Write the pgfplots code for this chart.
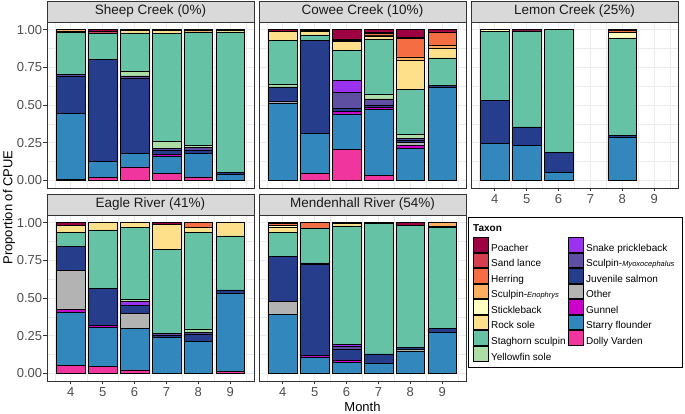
\documentclass[border=0pt]{standalone}
\usepackage{pgfplots}
\pgfplotsset{compat=1.18}
\usepackage{pgfplotstable}
\usepackage{fontspec}
\setmainfont{Liberation Sans}

\definecolor{cPO}{HTML}{9E0142}
\definecolor{cSL}{HTML}{D53E4F}
\definecolor{cHE}{HTML}{F46D43}
\definecolor{cEN}{HTML}{FDAE61}
\definecolor{cSB}{HTML}{FFFFBF}
\definecolor{cRS}{HTML}{FEE08B}
\definecolor{cSS}{HTML}{66C2A5}
\definecolor{cYF}{HTML}{ABDDA4}
\definecolor{cSP}{HTML}{9A32F0}
\definecolor{cMY}{HTML}{5E4FA2}
\definecolor{cJS}{HTML}{253D8A}
\definecolor{cOT}{HTML}{B3B3B3}
\definecolor{cGU}{HTML}{CC00CC}
\definecolor{cSF}{HTML}{3288BD}
\definecolor{cDV}{HTML}{F0359F}
\definecolor{gray10}{HTML}{1A1A1A}
\definecolor{gray20}{HTML}{333333}
\definecolor{gray30}{HTML}{4D4D4D}
\definecolor{gray85}{HTML}{D9D9D9}
\definecolor{gridgray}{HTML}{EBEBEB}

% columns: month, Dolly Varden, Starry flounder, Gunnel, Other, Juvenile salmon,
% Sculpin-Myoxocephalus, Snake prickleback, Yellowfin sole, Staghorn sculpin,
% Rock sole, Stickleback, Sculpin-Enophrys, Herring, Sand lance, Poacher
\pgfplotstableread{
m DV SF GU OT JS MY SP YF SS RS SB EN HE SL PO
4 0.006 0.436 0 0 0.250 0.013 0 0 0.274 0.011 0 0.010 0 0 0
5 0.018 0.108 0 0 0.675 0 0 0 0.177 0 0 0 0 0.011 0.011
6 0.090 0.087 0 0 0.501 0.015 0 0.027 0.258 0.016 0 0 0 0 0.006
7 0.046 0.115 0.011 0 0.028 0.012 0 0.048 0.716 0.018 0 0 0 0 0.006
8 0.024 0.155 0 0 0.021 0.021 0 0.011 0.753 0 0 0.008 0 0 0.007
9 0 0.042 0 0 0.013 0 0 0 0.930 0.008 0 0.007 0 0 0
}\tabS
\pgfplotstableread{
m DV SF GU OT JS MY SP YF SS RS SB EN HE SL PO
4 0 0.514 0 0.011 0.095 0 0 0.020 0.289 0.060 0 0 0 0 0.011
5 0.049 0.262 0 0 0.618 0 0 0 0.036 0.022 0.006 0 0 0 0.007
6 0.206 0.235 0.017 0 0.018 0.105 0.080 0 0.200 0.060 0 0.006 0 0.011 0.062
7 0.033 0.437 0.018 0 0.009 0.044 0 0.029 0.368 0.020 0 0.007 0.010 0.010 0.015
8 0 0.212 0.020 0.022 0.011 0.011 0 0.029 0.296 0.196 0 0.022 0.121 0.009 0.051
9 0 0.614 0 0 0.015 0 0 0 0.183 0.064 0 0.018 0.091 0 0.015
}\tabC
\pgfplotstableread{
m DV SF GU OT JS MY SP YF SS RS SB EN HE SL PO
4 0 0.245 0 0 0.287 0 0 0 0.455 0 0.013 0 0 0 0
5 0 0.234 0 0 0.121 0 0 0 0.636 0 0 0 0 0 0.009
6 0 0.051 0 0 0.137 0 0 0 0.812 0 0 0 0 0 0
8 0 0.289 0 0 0.009 0 0 0 0.647 0 0.037 0 0.012 0.006 0
}\tabL
\pgfplotstableread{
m DV SF GU OT JS MY SP YF SS RS SB EN HE SL PO
4 0.051 0.357 0.014 0.260 0.159 0 0 0 0.095 0.046 0 0 0 0 0.018
5 0.046 0.259 0.011 0 0.249 0 0 0 0.386 0.049 0 0 0 0 0
6 0.024 0.276 0 0.100 0.053 0 0.025 0.014 0.478 0.030 0 0 0 0 0
7 0 0.240 0 0 0.014 0.013 0 0 0.556 0.166 0 0 0 0 0.011
8 0 0.212 0 0 0.050 0.011 0 0.022 0.642 0.030 0 0 0.033 0 0
9 0.011 0.521 0 0 0.022 0 0 0 0.358 0.088 0 0 0 0 0
}\tabE
\pgfplotstableread{
m DV SF GU OT JS MY SP YF SS RS SB EN HE SL PO
4 0 0.389 0 0.088 0.298 0 0 0 0.161 0.033 0.011 0 0.012 0.008 0
5 0 0.110 0.008 0 0.607 0.008 0 0 0.232 0 0 0 0.035 0 0
6 0 0.075 0.015 0 0.071 0.020 0.013 0 0.784 0.015 0.007 0 0 0 0
7 0 0.064 0 0 0.066 0 0 0 0.865 0 0 0 0 0 0.005
8 0 0.145 0 0.015 0.012 0 0 0 0.808 0 0 0 0 0 0.020
9 0 0.272 0 0 0.028 0 0 0 0.667 0.005 0 0.028 0 0 0
}\tabM

\newcommand{\stackbars}[1]{%
\addplot[fill=cDV] table[x=m,y=DV]{#1};
\addplot[fill=cSF] table[x=m,y=SF]{#1};
\addplot[fill=cGU] table[x=m,y=GU]{#1};
\addplot[fill=cOT] table[x=m,y=OT]{#1};
\addplot[fill=cJS] table[x=m,y=JS]{#1};
\addplot[fill=cMY] table[x=m,y=MY]{#1};
\addplot[fill=cSP] table[x=m,y=SP]{#1};
\addplot[fill=cYF] table[x=m,y=YF]{#1};
\addplot[fill=cSS] table[x=m,y=SS]{#1};
\addplot[fill=cRS] table[x=m,y=RS]{#1};
\addplot[fill=cSB] table[x=m,y=SB]{#1};
\addplot[fill=cEN] table[x=m,y=EN]{#1};
\addplot[fill=cHE] table[x=m,y=HE]{#1};
\addplot[fill=cSL] table[x=m,y=SL]{#1};
\addplot[fill=cPO] table[x=m,y=PO]{#1};
}

\pgfplotsset{
 panel/.style={
   scale only axis, width=207pt, height=166pt,
   anchor=south west,
   xmin=3.255, xmax=9.745, ymin=-0.05, ymax=1.05,
   ybar stacked, bar width=0.9,
   xtick={4,5,6,7,8,9}, ytick={0,0.25,0.5,0.75,1},
   minor xtick={3.5,4.5,5.5,6.5,7.5,8.5,9.5},
   minor ytick={0.125,0.375,0.625,0.875},
   grid=both,
   major grid style={draw=gridgray, line width=0.7pt},
   minor grid style={draw=gridgray, line width=0.35pt},
   minor tick length=0pt,
   tick align=outside, major tick length=3.5pt,
   tick pos=left,
   tick style={draw=gray20, line width=0.6pt},
   axis line style={draw=gray20, line width=0.6pt},
   /pgf/number format/assume math mode=true,
   ticklabel style={font=\fontsize{13}{14}\selectfont, text=gray30},
   yticklabel style={/pgf/number format/fixed, /pgf/number format/fixed zerofill, /pgf/number format/precision=2, inner sep=1.2pt},
   xticklabel style={inner sep=2.5pt},
   every axis plot/.append style={draw=black, line width=0.6pt},
 },
 nox/.style={xticklabels={}, xtick style={draw=none}},
 noy/.style={yticklabels={}, ytick style={draw=none}},
}

\begin{document}
\begin{tikzpicture}
\useasboundingbox (0pt,0pt) rectangle (685pt,414pt);

% panels
\begin{axis}[panel, nox, at={(47pt,226pt)}]
\stackbars{\tabS}
\end{axis}
\begin{axis}[panel, nox, noy, at={(259pt,226pt)}]
\stackbars{\tabC}
\end{axis}
\begin{axis}[panel, noy, at={(471pt,226pt)}]
\stackbars{\tabL}
\end{axis}
\begin{axis}[panel, at={(47pt,33pt)}]
\stackbars{\tabE}
\end{axis}
\begin{axis}[panel, noy, at={(259pt,33pt)}]
\stackbars{\tabM}
\end{axis}

% strips
\tikzset{strip/.style={fill=gray85, draw=gray20, line width=0.6pt},
  striptext/.style={font=\fontsize{13.5}{15}\selectfont, text=gray10}}
\draw[strip] (47pt,392pt) rectangle (254pt,413pt);
\draw[strip] (259pt,392pt) rectangle (466pt,413pt);
\draw[strip] (471pt,392pt) rectangle (678pt,413pt);
\draw[strip] (47pt,199pt) rectangle (254pt,220pt);
\draw[strip] (259pt,199pt) rectangle (466pt,220pt);
\node[striptext] at (150.5pt,402.5pt) {Sheep Creek (0\%)};
\node[striptext] at (362.5pt,402.5pt) {Cowee Creek (10\%)};
\node[striptext] at (574.5pt,402.5pt) {Lemon Creek (25\%)};
\node[striptext] at (150.5pt,209.5pt) {Eagle River (41\%)};
\node[striptext] at (362.5pt,209.5pt) {Mendenhall River (54\%)};

% axis titles
\node[rotate=90, font=\fontsize{13}{15}\selectfont] at (9pt,206.5pt) {Proportion of CPUE};
\node[font=\fontsize{13}{15}\selectfont] at (362.5pt,7.5pt) {Month};

% legend
\draw[black, line width=0.6pt] (468pt,47pt) rectangle (682pt,197pt);
\node[anchor=west, font=\fontsize{10}{12}\selectfont\bfseries, inner sep=0pt] at (473pt,186pt) {Taxon};
\begin{axis}[hide axis, scale only axis, width=10pt, height=10pt,
  at={(473pt,177pt)}, anchor=south west,
  xmin=0, xmax=1, ymin=0, ymax=1,
  legend columns=2,
  legend cell align=left,
  legend style={at={(0,0)}, anchor=north west, draw=none, fill=none,
    inner sep=0pt, outer sep=0pt, row sep=0pt,
    font=\fontsize{10}{12}\selectfont,
    nodes={inner sep=0pt, outer sep=0pt},
    /tikz/every odd column/.append style={column sep=3pt},
    /tikz/every even column/.append style={column sep=2.5pt}},
  legend image code/.code={\draw[#1, draw=black, line width=0.6pt] (0pt,-3.7pt) rectangle (14.5pt,10.9pt);},
]
\addlegendimage{fill=cPO}\addlegendentry{Poacher}
\addlegendimage{fill=cSP}\addlegendentry{Snake prickleback}
\addlegendimage{fill=cSL}\addlegendentry{Sand lance}
\addlegendimage{fill=cMY}\addlegendentry{Sculpin-{\fontsize{7.5}{9}\selectfont\itshape Myoxocephalus}}
\addlegendimage{fill=cHE}\addlegendentry{Herring}
\addlegendimage{fill=cJS}\addlegendentry{Juvenile salmon}
\addlegendimage{fill=cEN}\addlegendentry{Sculpin-{\fontsize{7.5}{9}\selectfont\itshape Enophrys}}
\addlegendimage{fill=cOT}\addlegendentry{Other}
\addlegendimage{fill=cSB}\addlegendentry{Stickleback}
\addlegendimage{fill=cGU}\addlegendentry{Gunnel}
\addlegendimage{fill=cRS}\addlegendentry{Rock sole}
\addlegendimage{fill=cSF}\addlegendentry{Starry flounder}
\addlegendimage{fill=cSS}\addlegendentry{Staghorn sculpin}
\addlegendimage{fill=cDV}\addlegendentry{Dolly Varden}
\addlegendimage{fill=cYF}\addlegendentry{Yellowfin sole}
\end{axis}
\end{tikzpicture}
\end{document}
